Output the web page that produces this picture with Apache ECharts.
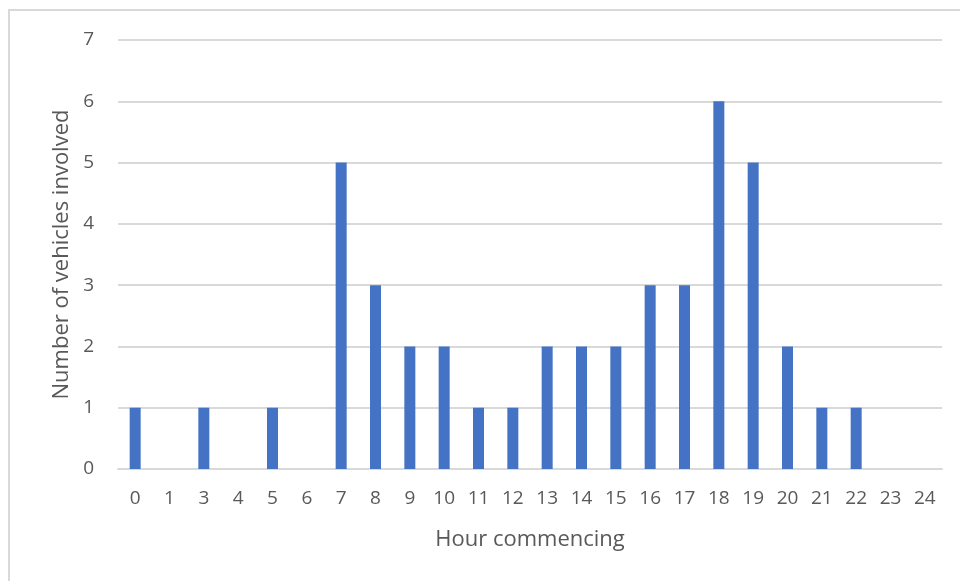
<!DOCTYPE html>
<html>
<head>
<meta charset="utf-8">
<script src="https://cdn.jsdelivr.net/npm/echarts@6/dist/echarts.min.js"></script>
<style>
  html, body { margin: 0; padding: 0; background: #fff; }
  #chart { width: 960px; height: 581px; }
</style>
</head>
<body>
<div id="chart"></div>
<script>
  // hours shown on the axis (the source has no hour 2)
  const hours = ['0', '1', '3', '4', '5', '6', '7', '8', '9', '10', '11', '12', '13', '14', '15', '16', '17', '18', '19', '20', '21', '22', '23', '24']
  const vehicles = [1, 0, 1, 0, 1, 0, 5, 3, 2, 2, 1, 1, 2, 2, 2, 3, 3, 6, 5, 2, 1, 1, 0, 0]
  const yTicks = [0, 7, 1] // min, max, interval

  const textColor = '#595959'
  const font = '"Open Sans", "Liberation Sans", sans-serif'

  const myChart = echarts.init(document.getElementById('chart'))
  const option = {
    animation: false,
    graphic: [
      {
        type: 'rect',
        shape: { x: 9, y: 10, width: 1000, height: 1000 },
        style: { fill: 'none', stroke: '#d9d9d9', lineWidth: 2 },
        silent: true,
      },
    ],
    grid: {
      left: 118,
      right: 18,
      top: 40,
      bottom: 112,
    },
    xAxis: {
      type: 'category',
      data: hours,
      name: 'Hour commencing',
      nameLocation: 'middle',
      nameGap: 60,
      nameTextStyle: { color: textColor, fontSize: 22, fontFamily: font },
      axisLine: { show: true, lineStyle: { color: '#d9d9d9', width: 2 } },
      axisTick: { show: false },
      axisLabel: { color: textColor, fontSize: 19, fontFamily: font, margin: 20 },
    },
    yAxis: {
      type: 'value',
      min: yTicks[0],
      max: yTicks[1],
      interval: yTicks[2],
      name: 'Number of vehicles involved',
      nameLocation: 'middle',
      nameGap: 44,
      nameTextStyle: { color: textColor, fontSize: 22, fontFamily: font },
      axisLine: { show: false },
      axisTick: { show: false },
      axisLabel: { color: textColor, fontSize: 19, fontFamily: font, margin: 24 },
      splitLine: { lineStyle: { color: '#d9d9d9', width: 2 } },
    },
    series: [
      {
        type: 'bar',
        data: vehicles,
        barWidth: 11,
        itemStyle: { color: '#4472c4' },
      },
    ],
  }
  myChart.setOption(option)
</script>
</body>
</html>
